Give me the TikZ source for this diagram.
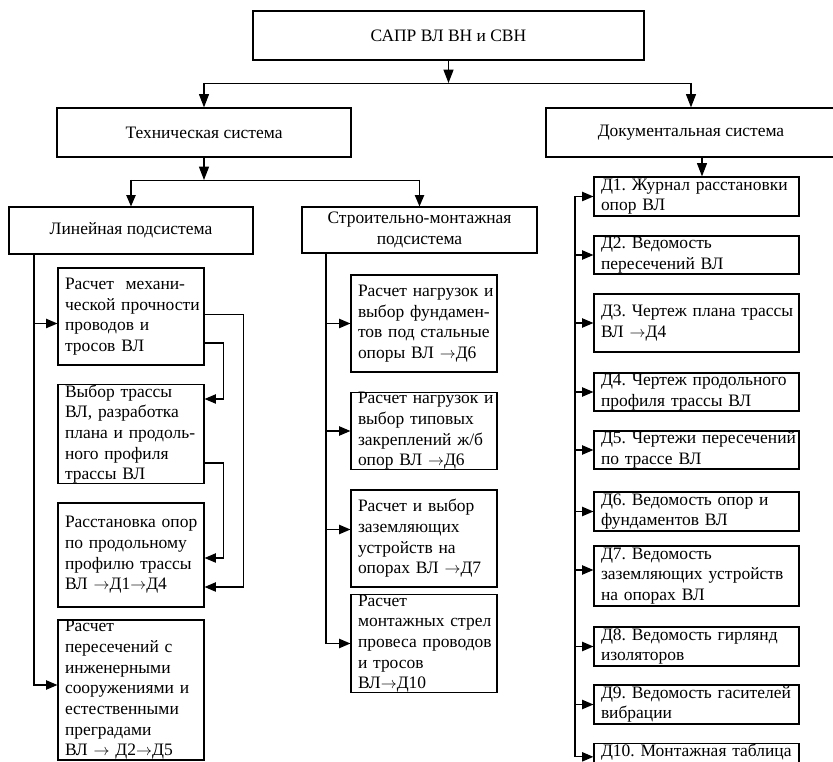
\documentclass[tikz,border=0pt]{standalone}
\usepackage{fontspec}
\setmainfont{Liberation Serif}
\usetikzlibrary{arrows.meta}

\newlength{\pix}
\setlength{\pix}{0.75pt}
\newcommand{\tarr}{\ensuremath{\rightarrow}}

\tikzset{
	box/.style={draw, rectangle, line width=0.9pt, inner ysep=0pt, font=\fontsize{13.1}{15.5}\selectfont},
	cbox/.style={box, align=center, inner xsep=4\pix},
	lbox/.style={box, align=left, inner xsep=7\pix,
		execute at begin node={\frenchspacing\rightskip=0pt plus 1fil minus 40pt}},
	tbox/.style={lbox, text width=132\pix},
	dbox/.style={lbox, text width=191\pix},
	arr/.style={-{Triangle[length=8.5pt,width=7pt]}, line width=0.9pt},
	bigarr/.style={-{Triangle[length=10pt,width=7.5pt]}, line width=0.9pt},
}

\begin{document}
\begin{tikzpicture}[x=0.75pt, y=-0.75pt]
	\clip (0,0) rectangle (833,762);

	\node[cbox, minimum width=391\pix, minimum height=49\pix] (top) at (448.5,35.5) {САПР ВЛ ВН и СВН};
	\node[cbox, minimum width=294\pix, minimum height=49\pix] (tech) at (204,132.5) {Техническая система};
	\node[cbox, minimum width=290\pix, minimum height=49\pix] (doc) at (691,132.5) {Документальная система};

	\node[cbox, minimum width=244\pix, minimum height=47\pix] (lin) at (131,230.5) {Линейная подсистема};
	\node[cbox, minimum width=235\pix, minimum height=46\pix] (str) at (419.5,230) {Строительно-монтажная\\подсистема};

	\node[tbox, minimum height=97\pix] (b1) at (131,316.5) {Расчет~ механи-\\ческой прочности\\проводов и\\тросов ВЛ};
	\node[tbox, minimum height=98\pix] (b2) at (131,434) {Выбор трассы\\ВЛ, разработка\\плана и продоль-\\ного профиля\\трассы ВЛ};
	\node[tbox, minimum height=104\pix] (b3) at (131,555) {Расстановка опор\\по продольному\\профилю трассы\\ВЛ \tarr Д1\tarr Д4};
	\node[tbox, minimum height=140\pix] (b4) at (131,690) {Расчет\\пересечений с\\инженерными\\сооружениями и\\естественными\\преградами\\ВЛ \tarr\ Д2\tarr Д5};

	\node[tbox, minimum height=97\pix] (s1) at (424,323.5) {Расчет нагрузок и\\выбор фундамен-\\тов под стальные\\опоры ВЛ \tarr Д6};
	\node[tbox, minimum height=76\pix] (s2) at (424,431) {Расчет нагрузок и\\выбор типовых\\закреплений ж/б\\опор ВЛ \tarr Д6};
	\node[tbox, minimum height=97\pix] (s3) at (424,538.5) {Расчет и выбор\\заземляющих\\устройств на\\опорах ВЛ \tarr Д7};
	\node[tbox, minimum height=97\pix] (s4) at (424,643.5) {Расчет\\монтажных стрел\\провеса проводов\\и тросов\\ВЛ\tarr Д10};

	\node[dbox, minimum height=39\pix] (d1) at (696.5,196.5) {Д1. Журнал расстановки\\опор ВЛ};
	\node[dbox, minimum height=38\pix] (d2) at (696.5,255) {Д2. Ведомость\\пересечений ВЛ};
	\node[dbox, minimum height=58\pix] (d3) at (696.5,323) {Д3. Чертеж плана трассы\\ВЛ \tarr Д4};
	\node[dbox, minimum height=38\pix] (d4) at (696.5,392) {Д4. Чертеж продольного\\профиля трассы ВЛ};
	\node[dbox, minimum height=38\pix] (d5) at (696.5,450) {Д5. Чертежи пересечений\\по трассе ВЛ};
	\node[dbox, minimum height=39\pix] (d6) at (696.5,511.5) {Д6. Ведомость опор и\\фундаментов ВЛ};
	\node[dbox, minimum height=60\pix] (d7) at (696.5,576) {Д7. Ведомость\\заземляющих устройств\\на опорах ВЛ};
	\node[dbox, minimum height=39\pix] (d8) at (696.5,646.5) {Д8. Ведомость гирлянд\\изоляторов};
	\node[dbox, minimum height=39\pix] (d9) at (696.5,704.5) {Д9. Ведомость гасителей\\вибрации};
	\node[dbox, anchor=north, text depth=14\pix] (d10) at (696.5,743) {Д10. Монтажная таблица};

	\coordinate (bus1) at (448.5,83);
	\coordinate (bus2) at (204,180);
	\coordinate (lbus) at (34,254);
	\coordinate (mbus) at (326,253);
	\coordinate (rbus) at (575,0);

	\draw[bigarr] (top.south) -- (bus1);
	\draw (bus1 -| tech.north) -- (bus1 -| doc.north);
	\draw[bigarr] (bus1 -| tech.north) -- (tech.north);
	\draw[bigarr] (bus1 -| doc.north) -- (doc.north);

	\draw[bigarr] (tech.south) -- (bus2);
	\draw (bus2 -| lin.north) -- (bus2 -| str.north);
	\draw[arr] (bus2 -| lin.north) -- (lin.north);
	\draw[arr] (bus2 -| str.north) -- (str.north);
	\draw[bigarr] ([xshift=5.5\pix]doc.south -| d1.north) -- ([xshift=5.5\pix]d1.north);

	\draw[arr] (lbus) |- ([yshift=5\pix]b4.west);
	\draw[arr] (lbus |- b1.west) ++(0,7) -- ([yshift=-7\pix]b1.west);
	\draw[arr] ([yshift=2\pix]b1.east) -- ++(39,0) |- ([yshift=-32\pix]b3.east);
	\draw[arr] ([yshift=-26.5\pix]b1.east) -- ++(19,0) |- ([yshift=35\pix]b2.east);
	\draw[arr] ([yshift=-29\pix]b2.east) -- ++(19,0) |- ([yshift=-3\pix]b3.east);

	\draw[arr] (mbus) |- (s4.west);
	\draw[arr] (mbus |- s1.west) -- (s1.west);
	\draw[arr] (mbus |- s2.west) -- (s2.west);
	\draw[arr] (mbus |- s3.west) ++(0,-9) -- ([yshift=9\pix]s3.west);

	\draw[arr] (rbus |- d1.west) |- (d10.west);
	\draw[arr] (rbus |- d1.west) -- (d1.west);
	\draw[arr] (rbus |- d2.west) -- (d2.west);
	\draw[arr] (rbus |- d3.west) -- (d3.west);
	\draw[arr] (rbus |- d4.west) -- (d4.west);
	\draw[arr] (rbus |- d5.west) -- (d5.west);
	\draw[arr] (rbus |- d6.west) -- (d6.west);
	\draw[arr] (rbus |- d7.west) ++(0,-6) -- ([yshift=6\pix]d7.west);
	\draw[arr] (rbus |- d8.west) -- (d8.west);
	\draw[arr] (rbus |- d9.west) -- (d9.west);
\end{tikzpicture}
\end{document}
